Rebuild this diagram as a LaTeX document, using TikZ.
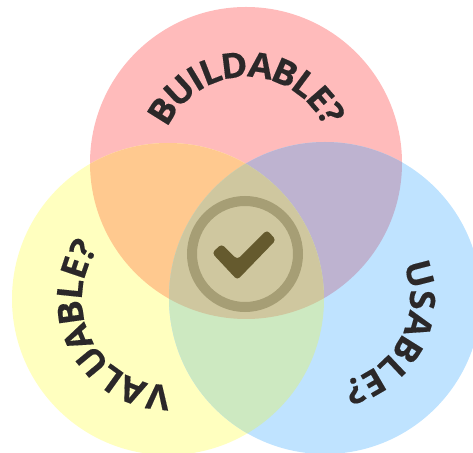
\documentclass[tikz,border=0pt]{standalone}
\usepackage{fontspec}
\usepackage{tikz}
\setmainfont{Open Sans}[BoldFeatures={FakeStretch=1.03,FakeBold=0.3}]
\definecolor{redc}{HTML}{FFBBBB}
\definecolor{yellowc}{HTML}{FFFFBF}
\definecolor{bluec}{HTML}{BFE3FF}
\definecolor{orangec}{HTML}{FFC98F}
\definecolor{purplec}{HTML}{BEB3D0}
\definecolor{greenc}{HTML}{CDE9C1}
\definecolor{middlec}{HTML}{CFC79F}
\definecolor{ringc}{HTML}{A69E75}
\definecolor{checkc}{HTML}{655A2E}
\definecolor{labelc}{HTML}{2B2829}
\tikzset{
  letterlabel/.style={text=labelc,font=\bfseries\fontsize{35}{35}\selectfont,inner sep=0pt,anchor=base},
  ringline/.style={draw=ringc,line width=10pt}
}

\begin{document}
\begin{tikzpicture}[x=1pt,y=1pt]
\useasboundingbox (0,0) rectangle (473,452);
\coordinate (red) at (246,289);
\coordinate (yellow) at (168,153);
\coordinate (blue) at (325,154);
\coordinate (mid) at (245,198);
\fill[redc] (red) circle (156);
\fill[yellowc] (yellow) circle (156);
\fill[bluec] (blue) circle (156);
% overlaps
\begin{scope}
\clip (red) circle (156);
\fill[orangec] (yellow) circle (156);
\fill[purplec] (blue) circle (156);
\end{scope}
\begin{scope}
\clip (yellow) circle (156);
\fill[greenc] (blue) circle (156);
\clip (blue) circle (156);
\fill[middlec] (red) circle (156);
\end{scope}
% tick
\draw[ringline] (mid) circle (53);
\fill[checkc,rounded corners=3.5pt] (212,199)--(221.5,208)--(237.3,192.5)--(267,222)--(276,212)--(237.3,172)--cycle;
% labels, one letter at a time
\foreach \ch/\ang [count=\i] in {B/148,U/132.7,I/121,L/111.2,D/97,A/81.3,B/66.6,L/53.4,E/41.1,?/30}
  \node[letterlabel,rotate=\ang-90] (build\i) at ([shift={(\ang:86)}]red) {\ch};
\foreach \ch/\ang [count=\i] in {V/264,A/248.6,L/234.3,U/219.5,A/203.2,B/188,L/174.1,E/161.4,?/149.9}
  \node[letterlabel,rotate=\ang-90] (value\i) at ([shift={(\ang:86)}]yellow) {\ch};
\foreach \ch/\ang [count=\i] in {U/14.4,S/-1.1,A/-16,B/-32,L/-46.5,E/-59.9,?/-72}
  \node[letterlabel,rotate=\ang-90] (use\i) at ([shift={(\ang:85)}]blue) {\ch};
\end{tikzpicture}
\end{document}
